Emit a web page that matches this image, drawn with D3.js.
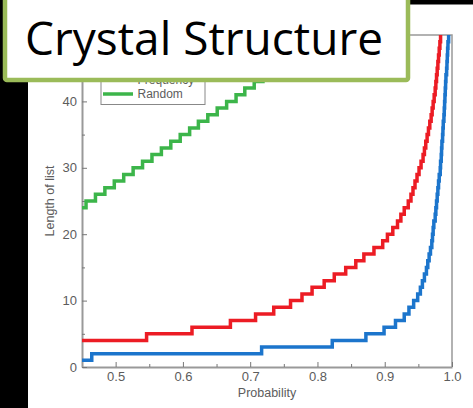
<!DOCTYPE html>
<html>
<head>
<meta charset="utf-8">
<script src="https://cdn.jsdelivr.net/npm/d3@7"></script>
<style>
  html, body { margin: 0; padding: 0; background: #fff; }
  svg { display: block; }
  .tick text { fill: #5c5c5c; }
</style>
</head>
<body>
<div id="chart"></div>
<script>
// step points: probability where each list length starts
const freqProb = [0.45, 0.546, 0.6135, 0.6706, 0.708, 0.735, 0.76, 0.777, 0.792, 0.81, 0.825, 0.842, 0.857, 0.869, 0.884, 0.897, 0.904, 0.912, 0.919, 0.924, 0.929, 0.935, 0.939, 0.942, 0.945, 0.948, 0.951, 0.954, 0.957, 0.959, 0.961, 0.963, 0.965, 0.967, 0.969, 0.9705, 0.972, 0.9735, 0.975, 0.976, 0.977, 0.978, 0.979, 0.98, 0.981, 0.982, 0.983];
const freqLen = [4, 5, 6, 7, 8, 9, 10, 11, 12, 13, 14, 15, 16, 17, 18, 19, 20, 21, 22, 23, 24, 25, 26, 27, 28, 29, 30, 31, 32, 33, 34, 35, 36, 37, 38, 39, 40, 41, 42, 43, 44, 45, 46, 47, 48, 49, 50];

const otherProb = [0.45, 0.4645, 0.717, 0.822, 0.872, 0.899, 0.916, 0.929, 0.936, 0.943, 0.949, 0.953, 0.956, 0.959, 0.962, 0.964, 0.966, 0.968, 0.97, 0.971, 0.972, 0.973, 0.975, 0.976, 0.977, 0.978, 0.979, 0.98, 0.981, 0.9825, 0.983, 0.984, 0.9845, 0.985, 0.986, 0.9865, 0.987, 0.988, 0.9885, 0.989, 0.9895, 0.99, 0.9905, 0.991, 0.992, 0.9925, 0.993, 0.9935, 0.994, 0.995];
const otherLen = [1, 2, 3, 4, 5, 6, 7, 8, 9, 10, 11, 12, 13, 14, 15, 16, 17, 18, 19, 20, 21, 22, 23, 24, 25, 26, 27, 28, 29, 30, 31, 32, 33, 34, 35, 36, 37, 38, 39, 40, 41, 42, 43, 44, 45, 46, 47, 48, 49, 50];

const randomProb = [0.45, 0.456, 0.47, 0.484, 0.498, 0.512, 0.526, 0.54, 0.554, 0.568, 0.582, 0.596, 0.61, 0.623, 0.637, 0.651, 0.665, 0.679, 0.692, 0.706, 0.719, 0.733, 0.746, 0.76, 0.773, 0.787, 0.8];
const randomLen = [24, 25, 26, 27, 28, 29, 30, 31, 32, 33, 34, 35, 36, 37, 38, 39, 40, 41, 42, 43, 44, 45, 46, 47, 48, 49, 50];

const xTicks = [0.5, 0.6, 0.7, 0.8, 0.9, 1.0];
const xMinor = [0.55, 0.65, 0.75, 0.85, 0.95];
const yTicks = [0, 10, 20, 30, 40];
const yMinor = [5, 15, 25, 35, 45];

const legendItems = ["Frequency", "Random"];
const title = "Crystal Structure";

const width = 473, height = 408;
const margin = ({top: 35, right: 21, bottom: 41, left: 82});

const x = d3.scaleLinear().domain([0.45, 1.0]).range([margin.left, width - margin.right]);
const y = d3.scaleLinear().domain([0, 50]).range([height - margin.bottom, margin.top]);

const svg = d3.select("#chart").append("svg")
	.attr("width", width)
	.attr("height", height);

// black slide background bits
svg.append("rect").attr("x", 0).attr("y", 0).attr("width", 28).attr("height", height).attr("fill", "#000");
svg.append("rect").attr("x", 0).attr("y", 0).attr("width", width).attr("height", 4.5).attr("fill", "#000");

const font = "'Liberation Sans Narrow', 'Liberation Sans', Arial, sans-serif";

// frame top/right
svg.append("path")
	.attr("d", `M${x(0.45)},${y(50)}H${x(1)}V${y(0)}`)
	.attr("fill", "none")
	.attr("stroke", "#999")
	.attr("stroke-width", 1.5);

const xAxis = g => g
	.attr("transform", `translate(0,${y(0)})`)
	.call(d3.axisBottom(x).tickValues(xTicks).tickFormat(d3.format(".1f")).tickSize(-5).tickPadding(5).tickSizeOuter(0))
	.call(g => g.select(".domain").attr("stroke", "#999").attr("stroke-width", 2))
	.call(g => g.selectAll(".tick line").attr("stroke", "#777"));

const yAxis = g => g
	.attr("transform", `translate(${x(0.45)},0)`)
	.call(d3.axisLeft(y).tickValues(yTicks).tickSize(-5).tickPadding(5).tickSizeOuter(0))
	.call(g => g.select(".domain").attr("stroke", "#999").attr("stroke-width", 2))
	.call(g => g.selectAll(".tick line").attr("stroke", "#777"));

svg.append("g").call(xAxis)
	.attr("font-family", font).attr("font-size", 13);
svg.append("g").call(yAxis)
	.attr("font-family", font).attr("font-size", 13);

// minor ticks
svg.append("g")
	.attr("transform", `translate(0,${y(0)})`)
	.call(d3.axisBottom(x).tickValues(xMinor).tickSize(-3).tickFormat(""))
	.call(g => g.select(".domain").remove())
	.call(g => g.selectAll(".tick line").attr("stroke", "#777"));
svg.append("g")
	.attr("transform", `translate(${x(0.45)},0)`)
	.call(d3.axisLeft(y).tickValues(yMinor).tickSize(-3).tickFormat(""))
	.call(g => g.select(".domain").remove())
	.call(g => g.selectAll(".tick line").attr("stroke", "#777"));

// axis labels
svg.append("text")
	.attr("x", (x(0.45) + x(1)) / 2)
	.attr("y", 397)
	.attr("text-anchor", "middle")
	.attr("font-family", font)
	.attr("font-size", 12.5)
	.attr("fill", "#5c5c5c")
	.text("Probability");

svg.append("text")
	.attr("transform", `translate(54,${(y(0) + y(50)) / 2}) rotate(-90)`)
	.attr("text-anchor", "middle")
	.attr("font-family", font)
	.attr("font-size", 12.5)
	.attr("fill", "#5c5c5c")
	.text("Length of list");

// step lines
const line = d3.line()
	.x(d => x(d[0]))
	.y(d => y(d[1]))
	.curve(d3.curveStepAfter);

const series = [
	{prob: randomProb, len: randomLen, color: "#3cb54a"},
	{prob: freqProb, len: freqLen, color: "#ec1c24"},
	{prob: otherProb, len: otherLen, color: "#1c75cc"}
];

svg.append("clipPath").attr("id", "plot-clip")
	.append("rect")
	.attr("x", x(0.45)).attr("y", y(50))
	.attr("width", x(1) - x(0.45)).attr("height", y(0) - y(50));

svg.append("g").attr("clip-path", "url(#plot-clip)")
	.selectAll("path")
	.data(series)
	.join("path")
		.attr("fill", "none")
		.attr("stroke", d => d.color)
		.attr("stroke-width", 3.5)
		.attr("d", d => line(d.prob.map((p, i) => [p, d.len[i]])));

// legend (partly hidden behind the title box)
const legend = svg.append("g").attr("font-family", font).attr("font-size", 12);
legend.append("rect")
	.attr("x", 101).attr("y", 40)
	.attr("width", 104).attr("height", 64.5)
	.attr("fill", "#fff")
	.attr("stroke", "#888")
	.attr("stroke-width", 1);
const legendColors = ["#ec1c24", "#3cb54a"];
legendItems.forEach((name, i) => {
	const ly = 80 + i * 14;
	legend.append("line")
		.attr("x1", 103).attr("x2", 133)
		.attr("y1", ly).attr("y2", ly)
		.attr("stroke", legendColors[i])
		.attr("stroke-width", 3.5);
	legend.append("text")
		.attr("x", 137.5).attr("y", ly)
		.attr("dy", "0.35em")
		.attr("fill", "#5c5c5c")
		.text(name);
});

// title box
svg.append("rect")
	.attr("x", 5).attr("y", -10)
	.attr("width", 403).attr("height", 90)
	.attr("rx", 2)
	.attr("fill", "#fff")
	.attr("stroke", "#9bbb59")
	.attr("stroke-width", 4.5);

svg.append("text")
	.attr("x", 25).attr("y", 55)
	.attr("font-family", "'Open Sans', 'Noto Sans', sans-serif")
	.attr("font-size", 45)
	.attr("textLength", 358)
	.attr("lengthAdjust", "spacingAndGlyphs")
	.attr("fill", "#000")
	.text(title);
</script>
</body>
</html>
